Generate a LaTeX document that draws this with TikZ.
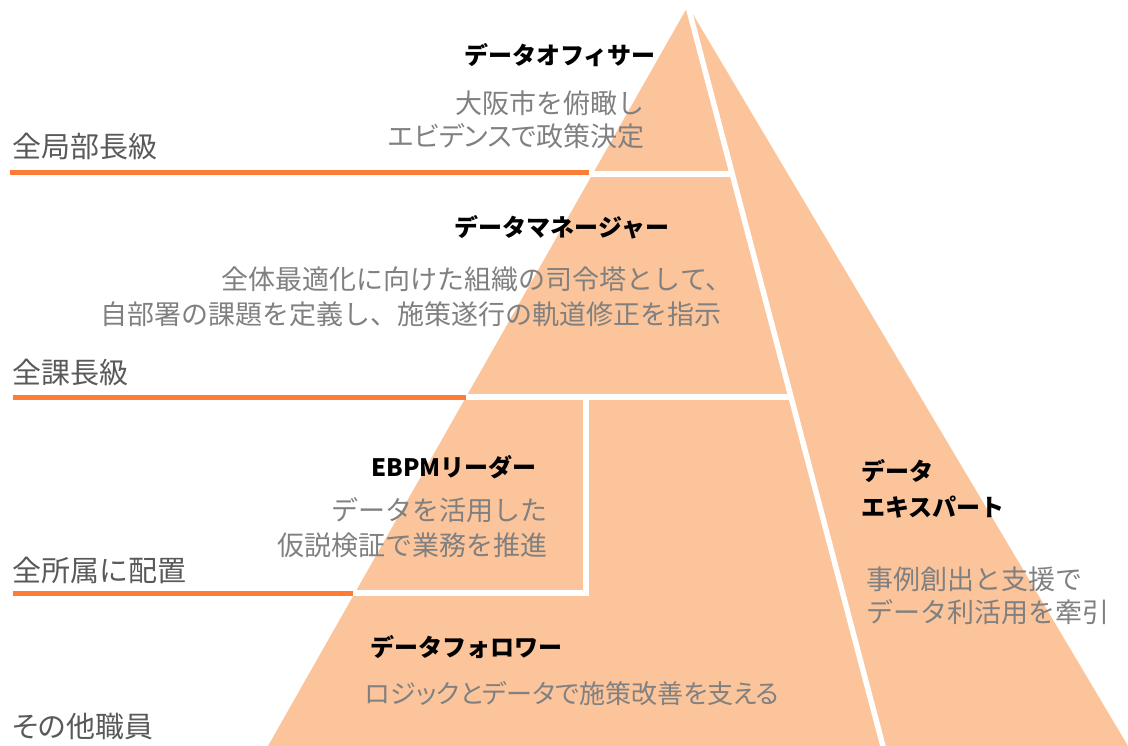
\documentclass[tikz,border=0pt]{standalone}
\usepackage{fontspec}
\setmainfont{Noto Sans CJK JP}
\definecolor{peach}{RGB}{251,196,155}
\definecolor{lineor}{RGB}{255,124,54}
\definecolor{txtgray}{RGB}{128,128,128}
\definecolor{lblgray}{RGB}{89,89,89}
\begin{document}
\begin{tikzpicture}[x=1pt,y=-1pt,
  head/.style={font=\fontsize{24}{24}\selectfont\bfseries, text=black, inner sep=0},
  desc/.style={font=\fontsize{27}{27}\selectfont, text=txtgray, inner sep=0},
  descp/.style={font=\fontsize{27}{27}\selectfont\addfontfeature{RawFeature=+palt}, text=txtgray, inner sep=0},
  lvl/.style={font=\fontsize{29}{29}\selectfont, text=lblgray, inner sep=0, anchor=base west},
  sepline/.style={white, line width=5.5pt},
  rank/.style={lineor, line width=5pt}]
\useasboundingbox (0,0) rectangle (1128,746);
% pyramid
\coordinate (A) at (688,6);
\coordinate (BL) at (268,746);
\coordinate (BR) at (1128,746);
\coordinate (D) at (884,750);
\fill[peach] (A) -- (BL) -- (BR) -- cycle;
% separators
\draw[sepline] (A) -- (D);
\coordinate (h1a) at (585,174); \coordinate (h1b) at (732,174);
\coordinate (h2a) at (460,397); \coordinate (h2b) at (790,397);
\coordinate (va) at (586,397); \coordinate (vb) at (586,593);
\coordinate (h3a) at (350,593); \coordinate (h3b) at (589,593);
\draw[sepline] (h1a) -- (h1b);
\draw[sepline] (h2a) -- (h2b);
\draw[sepline] (va) -- (vb);
\draw[sepline] (h3a) -- (h3b);
% rank lines
\coordinate (r1a) at (10,173); \coordinate (r1b) at (589,173);
\coordinate (r2a) at (13,397); \coordinate (r2b) at (466,397);
\coordinate (r3a) at (13,593); \coordinate (r3b) at (353,593);
\draw[rank] (r1a) -- (r1b);
\draw[rank] (r2a) -- (r2b);
\draw[rank] (r3a) -- (r3b);
% level labels
\node[lvl] (l1) at (12,158) {全局部長級};
\node[lvl] (l2) at (12,383) {全課長級};
\node[lvl] (l3) at (12,581) {全所属に配置};
\node[lvl, font=\fontsize{29}{29}\selectfont\addfontfeature{RawFeature=+palt}] (l4) at (12,737) {その他職員};
% headers
\node[head, anchor=base] (t1) at (560,65) {データオフィサー};
\node[head, anchor=base] (t2) at (562,237) {データマネージャー};
\node[head, anchor=base] (t3) at (454,476) {EBPMリーダー};
\node[head, anchor=base west] (t4a) at (861,480) {データ};
\node[head, anchor=base west] (t4b) at (861,516) {エキスパート};
\node[head, anchor=base] (t5) at (466,656) {データフォロワー};
% descriptions
\node[desc, anchor=base east] (d1a) at (645,114) {大阪市を俯瞰し};
\node[descp, anchor=base east] (d1b) at (645,147) {エビデンスで政策決定};
\node[desc, anchor=base east] (d2a) at (733,290) {全体最適化に向けた組織の司令塔として、};
\node[desc, anchor=base east] (d2b) at (722,325) {自部署の課題を定義し、施策遂行の軌道修正を指示};
\node[desc, anchor=base east] (d3a) at (548,520) {データを活用した};
\node[desc, anchor=base east] (d3b) at (548,555) {仮説検証で業務を推進};
\node[desc, anchor=base west] (d4a) at (866,589) {事例創出と支援で};
\node[desc, anchor=base west] (d4b) at (866,622) {データ利活用を牽引};
\node[descp, font=\fontsize{26}{26}\selectfont\addfontfeature{RawFeature=+palt}, anchor=base west] (d5) at (365,703) {ロジックとデータで施策改善を支える};
\end{tikzpicture}
\end{document}
